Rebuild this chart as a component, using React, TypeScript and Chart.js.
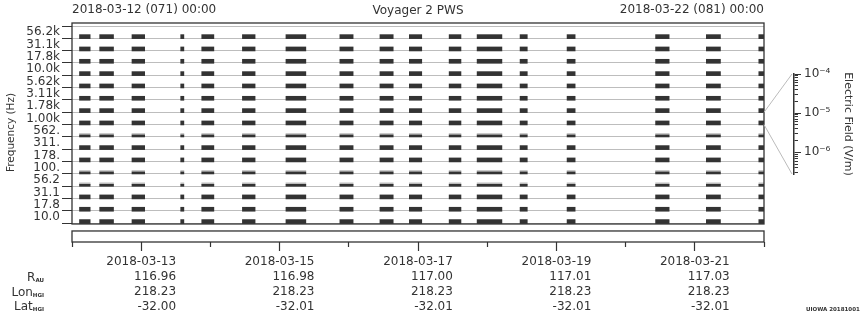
import React, { useEffect, useRef } from 'react';
import { Chart, registerables } from 'chart.js';

Chart.register(...registerables);

const FONT = "'DejaVu Sans', 'Liberation Sans', sans-serif";
const INK = '#333333';

// ---------------- data ----------------
const titleText = 'Voyager 2 PWS';
const startStamp = '2018-03-12 (071) 00:00';
const endStamp = '2018-03-22 (081) 00:00';
const freqLabels = ['56.2k', '31.1k', '17.8k', '10.0k', '5.62k', '3.11k', '1.78k', '1.00k', '562.', '311.', '178.', '100.', '56.2', '31.1', '17.8', '10.0'];
// hours since 2018-03-12 00:00
const burstStartHours = [2.6, 9.6, 20.8, 37.7, 45.0, 59.1, 74.2, 92.9, 106.8, 117.0, 130.8, 140.5, 155.4, 171.7, 202.4, 220.0, 238.2];
const burstEndHours = [6.3, 14.4, 25.2, 38.8, 49.2, 63.5, 81.1, 97.5, 111.4, 121.3, 134.9, 149.1, 157.9, 174.5, 207.1, 224.9, 240.0];
const weakRows = [8, 11, 12];
const dayTickHours = [0, 24, 48, 72, 96, 120, 144, 168, 192, 216, 240];
const dateTickHours = [24, 72, 120, 168, 216];
const dateLabels = ['2018-03-13', '2018-03-15', '2018-03-17', '2018-03-19', '2018-03-21'];
const rAU = ['116.96', '116.98', '117.00', '117.01', '117.03'];
const lonHGI = ['218.23', '218.23', '218.23', '218.23', '218.23'];
const latHGI = ['-32.00', '-32.01', '-32.01', '-32.01', '-32.01'];
const rowLabelMain = ['R', 'Lon', 'Lat'];
const rowLabelSub = ['AU', 'HGI', 'HGI'];
const fieldMin = 2.8e-7;
const fieldMax = 1e-4;
const fieldDecades = [-7, -6, -5, -4];
const fieldMajorLabels: Record<string, string> = { '-4': '10⁻⁴', '-5': '10⁻⁵', '-6': '10⁻⁶' };
const fieldTitle = 'Electric Field (V/m)';
const freqTitle = 'Frequency (Hz)';
const colorbarRow = 7;
const credit = 'UIOWA 20181001';

// ---------------- layout ----------------
const W = 860;
const H = 320;
const PLOT_LEFT = 72;
const PLOT_RIGHT = 764;
const PLOT_TOP = 23;
const ROW0 = 26;
const ROW_PX = 12.33;
const AREA_BOTTOM = 242;
const CB_LEFT = 794;
const CB_RIGHT = 798;
const CB_TOP = 74;
const CB_BOTTOM = 174;
const LABEL_LINE = 14.8;
const FIRST_LINE_CENTER = 262;

const nRows = freqLabels.length;
const yMin = -(ROW0 - PLOT_TOP) / ROW_PX;
const yMax = yMin + (AREA_BOTTOM - PLOT_TOP) / ROW_PX;
const rowIdx = freqLabels.map((_, i) => i);
const spans = burstStartHours.map((s, i) => [s, burstEndHours[i]]);
const strongRows = rowIdx.filter((r) => !weakRows.includes(r));

const fieldTicks: number[] = [];
fieldDecades.forEach((e) => {
  for (let k = 1; k <= 9; k++) {
    const v = k * Math.pow(10, e);
    if (v >= fieldMin * 0.999 && v <= fieldMax * 1.001) fieldTicks.push(v);
  }
});
const isMajor = (v: number) => Math.abs(Math.log10(v) - Math.round(Math.log10(v))) < 1e-6;

function barsFor(rows: number[], thick: number, lift: number) {
  return rows.flatMap((r) => spans.map((sp) => ({ x: sp, y: r + 1 - (lift + thick / 2) / ROW_PX })));
}

export default function App() {
  const mainRef = useRef<HTMLCanvasElement>(null);
  const cbRef = useRef<HTMLCanvasElement>(null);

  useEffect(() => {
    Chart.defaults.font.family = FONT;
    Chart.defaults.color = INK;

    const mctx = document.createElement('canvas').getContext('2d')!;
    mctx.font = `12px ${FONT}`;
    const halfDate = mctx.measureText(dateLabels[0]).width / 2;
    const shiftHours = (halfDate * 240) / (PLOT_RIGHT - PLOT_LEFT);

    const framePlugin = {
      id: 'frames',
      afterDatasetsDraw(chart: any) {
        const { ctx, chartArea: a, scales } = chart;
        const y = scales.y;
        const bottom = y.getPixelForValue(nRows) + 0.7;
        ctx.save();
        ctx.strokeStyle = INK;
        ctx.lineWidth = 1.3;
        ctx.strokeRect(a.left, a.top, a.right - a.left, bottom - a.top);
        ctx.strokeRect(a.left, bottom + 7, a.right - a.left, a.bottom - bottom - 7);
        ctx.strokeStyle = '#bbbbbb';
        ctx.lineWidth = 1;
        ctx.beginPath();
        ctx.moveTo(a.right, y.getPixelForValue(colorbarRow));
        ctx.lineTo(CB_LEFT - 2, CB_TOP);
        ctx.moveTo(a.right, y.getPixelForValue(colorbarRow + 1));
        ctx.lineTo(CB_LEFT - 2, CB_BOTTOM);
        ctx.stroke();
        ctx.restore();
      },
    };

    const main = new Chart(mainRef.current!, {
      type: 'bar',
      data: {
        datasets: [
          { label: 'strong', data: barsFor(strongRows, 4, -0.3), backgroundColor: INK, barThickness: 4, grouped: false, borderWidth: 0 } as any,
          { label: 'weak', data: barsFor(weakRows, 2, 0), backgroundColor: INK, barThickness: 2, grouped: false, borderWidth: 0 } as any,
          { label: 'weakTop', data: barsFor(weakRows, 1.5, 2), backgroundColor: '#c2c2c2', barThickness: 1.5, grouped: false, borderWidth: 0 } as any,
        ],
      },
      options: {
        indexAxis: 'y',
        responsive: false,
        animation: false,
        layout: { padding: { left: 0, right: W - PLOT_RIGHT, top: 0, bottom: 0 } },
        plugins: {
          legend: { display: false },
          tooltip: { enabled: false },
          title: {
            display: true,
            text: titleText,
            fullSize: false,
            color: INK,
            font: { family: FONT, size: 12, weight: 'normal' },
            padding: { top: 3.8, bottom: 4.8 },
          },
        },
        scales: {
          y: {
            type: 'linear',
            position: 'left',
            reverse: true,
            min: yMin,
            max: yMax,
            bounds: 'data',
            offset: false,
            weight: 0,
            afterBuildTicks: (s: any) => {
              s.ticks = Array.from({ length: nRows + 1 }, (_, i) => ({ value: i }));
            },
            ticks: { display: false, autoSkip: false },
            grid: { color: '#bdbdbd', lineWidth: 1, tickColor: INK, tickLength: 10, drawTicks: true, offset: false },
            border: { display: false },
            afterFit: (s: any) => {
              s.width = 10;
            },
          } as any,
          yl: {
            type: 'linear',
            axis: 'y',
            position: 'left',
            reverse: true,
            min: yMin,
            max: yMax,
            bounds: 'data',
            offset: false,
            weight: 1,
            afterBuildTicks: (s: any) => {
              s.ticks = freqLabels.map((_, i) => ({ value: i + 0.5 }));
            },
            ticks: {
              autoSkip: false,
              padding: 2,
              color: INK,
              font: { size: 12 },
              callback: (_v: any, i: number) => freqLabels[i],
            },
            grid: { display: false, drawTicks: false, offset: false },
            border: { display: false },
            title: { display: true, text: freqTitle, color: INK, font: { size: 10.5 }, padding: { top: 5, bottom: 0 } },
            afterFit: (s: any) => {
              s.width = PLOT_LEFT - 10;
            },
          } as any,
          x: {
            type: 'linear',
            position: 'bottom',
            min: 0,
            max: 240,
            bounds: 'data',
            offset: false,
            weight: 0,
            afterBuildTicks: (s: any) => {
              s.ticks = dayTickHours.map((v) => ({ value: v }));
            },
            ticks: { display: false, autoSkip: false },
            grid: { drawOnChartArea: false, drawTicks: true, tickLength: 5, tickColor: INK, tickWidth: 1.2 },
            border: { display: false },
            afterFit: (s: any) => {
              s.height = 5;
            },
          } as any,
          x2: {
            type: 'linear',
            axis: 'x',
            position: 'bottom',
            min: 0,
            max: 240,
            bounds: 'data',
            offset: false,
            weight: 1,
            afterBuildTicks: (s: any) => {
              s.ticks = dateTickHours.map((v) => ({ value: v }));
            },
            ticks: { display: false, autoSkip: false },
            grid: { drawOnChartArea: false, drawTicks: true, tickLength: 4, tickColor: INK, tickWidth: 1.2 },
            border: { display: false },
            afterFit: (s: any) => {
              s.height = 4;
            },
          } as any,
          xl: {
            type: 'linear',
            axis: 'x',
            position: 'bottom',
            min: -shiftHours,
            max: 240 - shiftHours,
            bounds: 'data',
            offset: false,
            beginAtZero: false,
            weight: 2,
            afterBuildTicks: (s: any) => {
              s.ticks = dateTickHours.map((v) => ({ value: v }));
            },
            ticks: {
              autoSkip: false,
              maxRotation: 0,
              minRotation: 0,
              align: 'end',
              padding: 3.6,
              color: INK,
              font: { size: 12, lineHeight: LABEL_LINE / 12 },
              callback: (_v: any, i: number) => [dateLabels[i], rAU[i], lonHGI[i], latHGI[i]],
            },
            grid: { display: false, drawTicks: false },
            border: { display: false },
            afterFit: (s: any) => {
              s.height = H - AREA_BOTTOM - 9;
            },
          } as any,
        },
      } as any,
      plugins: [framePlugin],
    });

    const cbScaleBase = {
      type: 'logarithmic',
      axis: 'y',
      min: fieldMin,
      max: fieldMax,
      bounds: 'data',
      offset: false,
      afterBuildTicks: (s: any) => {
        s.ticks = fieldTicks.map((v) => ({ value: v, major: isMajor(v) }));
      },
    };

    const cb = new Chart(cbRef.current!, {
      type: 'scatter',
      data: { datasets: [] },
      options: {
        responsive: false,
        animation: false,
        layout: { padding: { left: CB_LEFT, right: 0, top: CB_TOP, bottom: H - CB_BOTTOM } },
        plugins: { legend: { display: false }, tooltip: { enabled: false }, title: { display: false } },
        scales: {
          x: { type: 'linear', min: 0, max: 1, display: false },
          yL: {
            ...cbScaleBase,
            position: 'left',
            ticks: { display: false, autoSkip: false },
            grid: { drawOnChartArea: true, drawTicks: false, color: INK, lineWidth: 1 },
            border: { display: true, color: INK, width: 1.5 },
            afterFit: (s: any) => {
              s.width = 0;
            },
          } as any,
          yR: {
            ...cbScaleBase,
            position: 'right',
            ticks: {
              autoSkip: false,
              padding: 3,
              color: INK,
              font: { size: 12 },
              callback: (v: any) => (isMajor(v) ? fieldMajorLabels[String(Math.round(Math.log10(v)))] || '' : ''),
            },
            grid: {
              drawOnChartArea: false,
              drawTicks: true,
              tickLength: 3,
              tickWidth: 1,
              tickColor: (c: any) => (c.tick && isMajor(c.tick.value) ? INK : 'rgba(0,0,0,0)'),
            },
            border: { display: false },
            title: { display: true, text: fieldTitle, color: INK, font: { size: 11 }, padding: { top: 6, bottom: 0 } },
            afterFit: (s: any) => {
              s.width = W - CB_RIGHT;
            },
          } as any,
        },
      } as any,
    });

    return () => {
      main.destroy();
      cb.destroy();
    };
  }, []);

  const textBase: React.CSSProperties = {
    position: 'absolute',
    fontFamily: FONT,
    fontSize: '12px',
    lineHeight: '14px',
    height: '14px',
    color: INK,
    whiteSpace: 'nowrap',
  };

  return (
    <div style={{ position: 'absolute', left: 0, top: 0, width: W, height: H, background: '#ffffff', overflow: 'hidden' }}>
      <canvas ref={mainRef} width={W} height={H} style={{ position: 'absolute', left: 0, top: 0 }} />
      <canvas ref={cbRef} width={W} height={H} style={{ position: 'absolute', left: 0, top: 0 }} />
      <div style={{ ...textBase, left: PLOT_LEFT, top: 2.4 }}>{startStamp}</div>
      <div style={{ ...textBase, left: PLOT_RIGHT - 300, width: 300, textAlign: 'right', top: 2.4 }}>{endStamp}</div>
      {rowLabelMain.map((m, i) => (
        <div
          key={m + i}
          style={{ ...textBase, left: 0, width: 44, textAlign: 'right', top: FIRST_LINE_CENTER + LABEL_LINE * (i + 1) - 7 }}
        >
          {m}
          <span style={{ fontSize: '5.5px', fontWeight: 'bold', verticalAlign: '-1px' }}>{rowLabelSub[i]}</span>
        </div>
      ))}
      <div
        style={{
          position: 'absolute',
          left: 806,
          top: 306,
          fontFamily: FONT,
          fontSize: '5.5px',
          lineHeight: '6px',
          fontWeight: 'bold',
          color: INK,
          whiteSpace: 'nowrap',
        }}
      >
        {credit}
      </div>
    </div>
  );
}
